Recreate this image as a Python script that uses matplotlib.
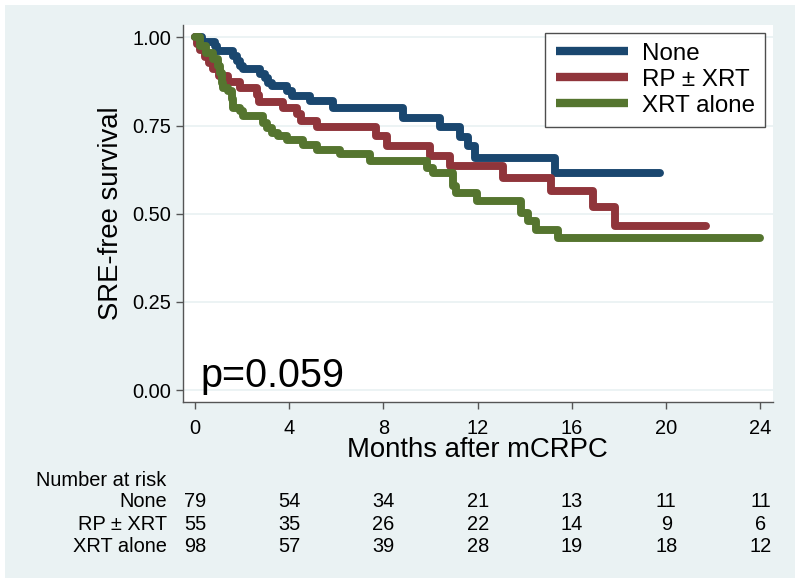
import matplotlib
matplotlib.use("Agg")
import matplotlib.pyplot as plt
from matplotlib.patches import Rectangle
from matplotlib.transforms import blended_transform_factory

# COLORS (Stata s2color)
BLUE_COLOR = "#1a476f"
RED_COLOR = "#90353b"
GREEN_COLOR = "#55752f"
BG_COLOR = "#eaf2f3"
AXIS_COLOR = "#555555"

SMALL_FONT = 14.4
LABEL_FONT = 19.8
LEGEND_FONT = 17.4

plt.rcParams["font.family"] = ["Liberation Sans", "DejaVu Sans"]

# ==========================
# DATA
# ==========================

none_t = [0, 0.28, 0.85, 0.92, 1.63, 1.77, 1.91, 2.05, 2.76, 2.97, 3.11, 3.25,
          3.89, 4.10, 4.88, 5.87, 8.83, 10.39, 11.24, 11.59, 11.87, 15.27, 19.72]
none_s = [1.0, 0.987, 0.975, 0.961, 0.947, 0.933, 0.918, 0.909, 0.895, 0.885, 0.871, 0.862,
          0.847, 0.833, 0.819, 0.800, 0.772, 0.745, 0.718, 0.691, 0.658, 0.614, 0.614]

rp_t = [0, 0.10, 0.21, 0.42, 0.60, 0.78, 1.00, 1.41, 1.91, 2.62, 2.70, 3.75, 4.31,
        4.50, 5.16, 7.70, 8.13, 9.97, 10.81, 13.08, 15.13, 16.89, 17.81, 21.70]
rp_s = [1.0, 0.982, 0.964, 0.945, 0.927, 0.909, 0.891, 0.873, 0.855, 0.836, 0.818, 0.800, 0.782,
        0.764, 0.745, 0.720, 0.691, 0.663, 0.634, 0.601, 0.563, 0.520, 0.464, 0.464]

xrt_t = [0, 0.21, 0.49, 0.78, 0.99, 1.06, 1.13, 1.20, 1.41, 1.56, 1.63, 1.91, 2.05,
         2.90, 3.04, 3.25, 3.53, 3.89, 4.59, 5.16, 6.15, 7.42, 9.83, 10.11, 10.96,
         11.10, 11.95, 13.85, 14.14, 14.49, 15.41, 23.96]
xrt_s = [1.0, 0.975, 0.955, 0.940, 0.920, 0.900, 0.871, 0.857, 0.847, 0.824, 0.800, 0.791, 0.776,
         0.757, 0.743, 0.729, 0.720, 0.708, 0.696, 0.682, 0.668, 0.649, 0.630, 0.614, 0.578,
         0.559, 0.535, 0.502, 0.478, 0.455, 0.431, 0.431]

groups = ["None", "RP ± XRT", "XRT alone"]
risk_times = [0, 4, 8, 12, 16, 20, 24]
risk_none = [79, 54, 34, 21, 13, 11, 11]
risk_rp = [55, 35, 26, 22, 14, 9, 6]
risk_xrt = [98, 57, 39, 28, 19, 18, 12]

# ==========================
# FIGURE
# ==========================

fig = plt.figure(figsize=(8, 5.84), dpi=100, facecolor="white")
fig.patches.append(Rectangle((5 / 800, 6 / 584), 790 / 800, 573 / 584,
                             transform=fig.transFigure, facecolor=BG_COLOR,
                             edgecolor="none", zorder=-10))

ax = fig.add_axes([182.7 / 800, 1 - 401.7 / 584, 590 / 800, 376.7 / 584])
ax.set_facecolor("white")

curves = [(none_t, none_s, BLUE_COLOR), (rp_t, rp_s, RED_COLOR), (xrt_t, xrt_s, GREEN_COLOR)]
for (t, s, c), name in zip(curves, groups):
    ax.step(t, s, where="post", color=c, linewidth=5.7, label=name,
            solid_capstyle="round", solid_joinstyle="round", zorder=3)

ax.set_xlim(-0.52, 24.52)
ax.set_ylim(-0.033, 1.035)
ax.set_xticks(risk_times)
ax.set_yticks([0, 0.25, 0.5, 0.75, 1.0])
ax.set_yticklabels(["0.00", "0.25", "0.50", "0.75", "1.00"])

ax.grid(axis="y", color=BG_COLOR, linewidth=1.3, zorder=1)
ax.set_axisbelow(True)

for side in ["top", "right"]:
    ax.spines[side].set_visible(False)
for side in ["left", "bottom"]:
    ax.spines[side].set_color(AXIS_COLOR)
    ax.spines[side].set_linewidth(1.0)

ax.tick_params(axis="both", colors=AXIS_COLOR, labelcolor="black",
               length=5, width=1.0, labelsize=SMALL_FONT)
ax.tick_params(axis="x", pad=7.5)
ax.tick_params(axis="y", pad=3)

ax.set_xlabel("Months after mCRPC", fontsize=LABEL_FONT, labelpad=-1)
ax.set_ylabel("SRE-free survival", fontsize=LABEL_FONT, labelpad=6)

ax.text(0.25, 0.01, "p=0.059", fontsize=28.5, ha="left", va="baseline")

leg = ax.legend(loc="upper right", bbox_to_anchor=(765 / 800, 1 - 32.7 / 584),
                bbox_transform=fig.transFigure, fontsize=LEGEND_FONT, frameon=True,
                fancybox=False, handlelength=3.0, handletextpad=0.57,
                labelspacing=0.16, borderpad=0.42, borderaxespad=0)
leg.get_frame().set_edgecolor("#222222")
leg.get_frame().set_linewidth(1.0)
for line in leg.get_lines():
    line.set_linewidth(6)
    line.set_solid_capstyle("butt")

# ==========================
# NUMBER AT RISK
# ==========================

trans = blended_transform_factory(ax.transData, fig.transFigure)
fig.text(166.7 / 800, 1 - 480 / 584, "Number at risk", fontsize=SMALL_FONT,
         ha="right", va="center")
rows = [risk_none, risk_rp, risk_xrt]
row_y = [501.7, 525, 546.7]
for name, counts, py in zip(groups, rows, row_y):
    fig.text(166.7 / 800, 1 - py / 584, name, fontsize=SMALL_FONT, ha="right", va="center")
    for t, n in zip(risk_times, counts):
        ax.text(t, 1 - py / 584, str(n), transform=trans, fontsize=SMALL_FONT,
                ha="center", va="center", clip_on=False)

fig.savefig("out.png", dpi=100, facecolor="white")
